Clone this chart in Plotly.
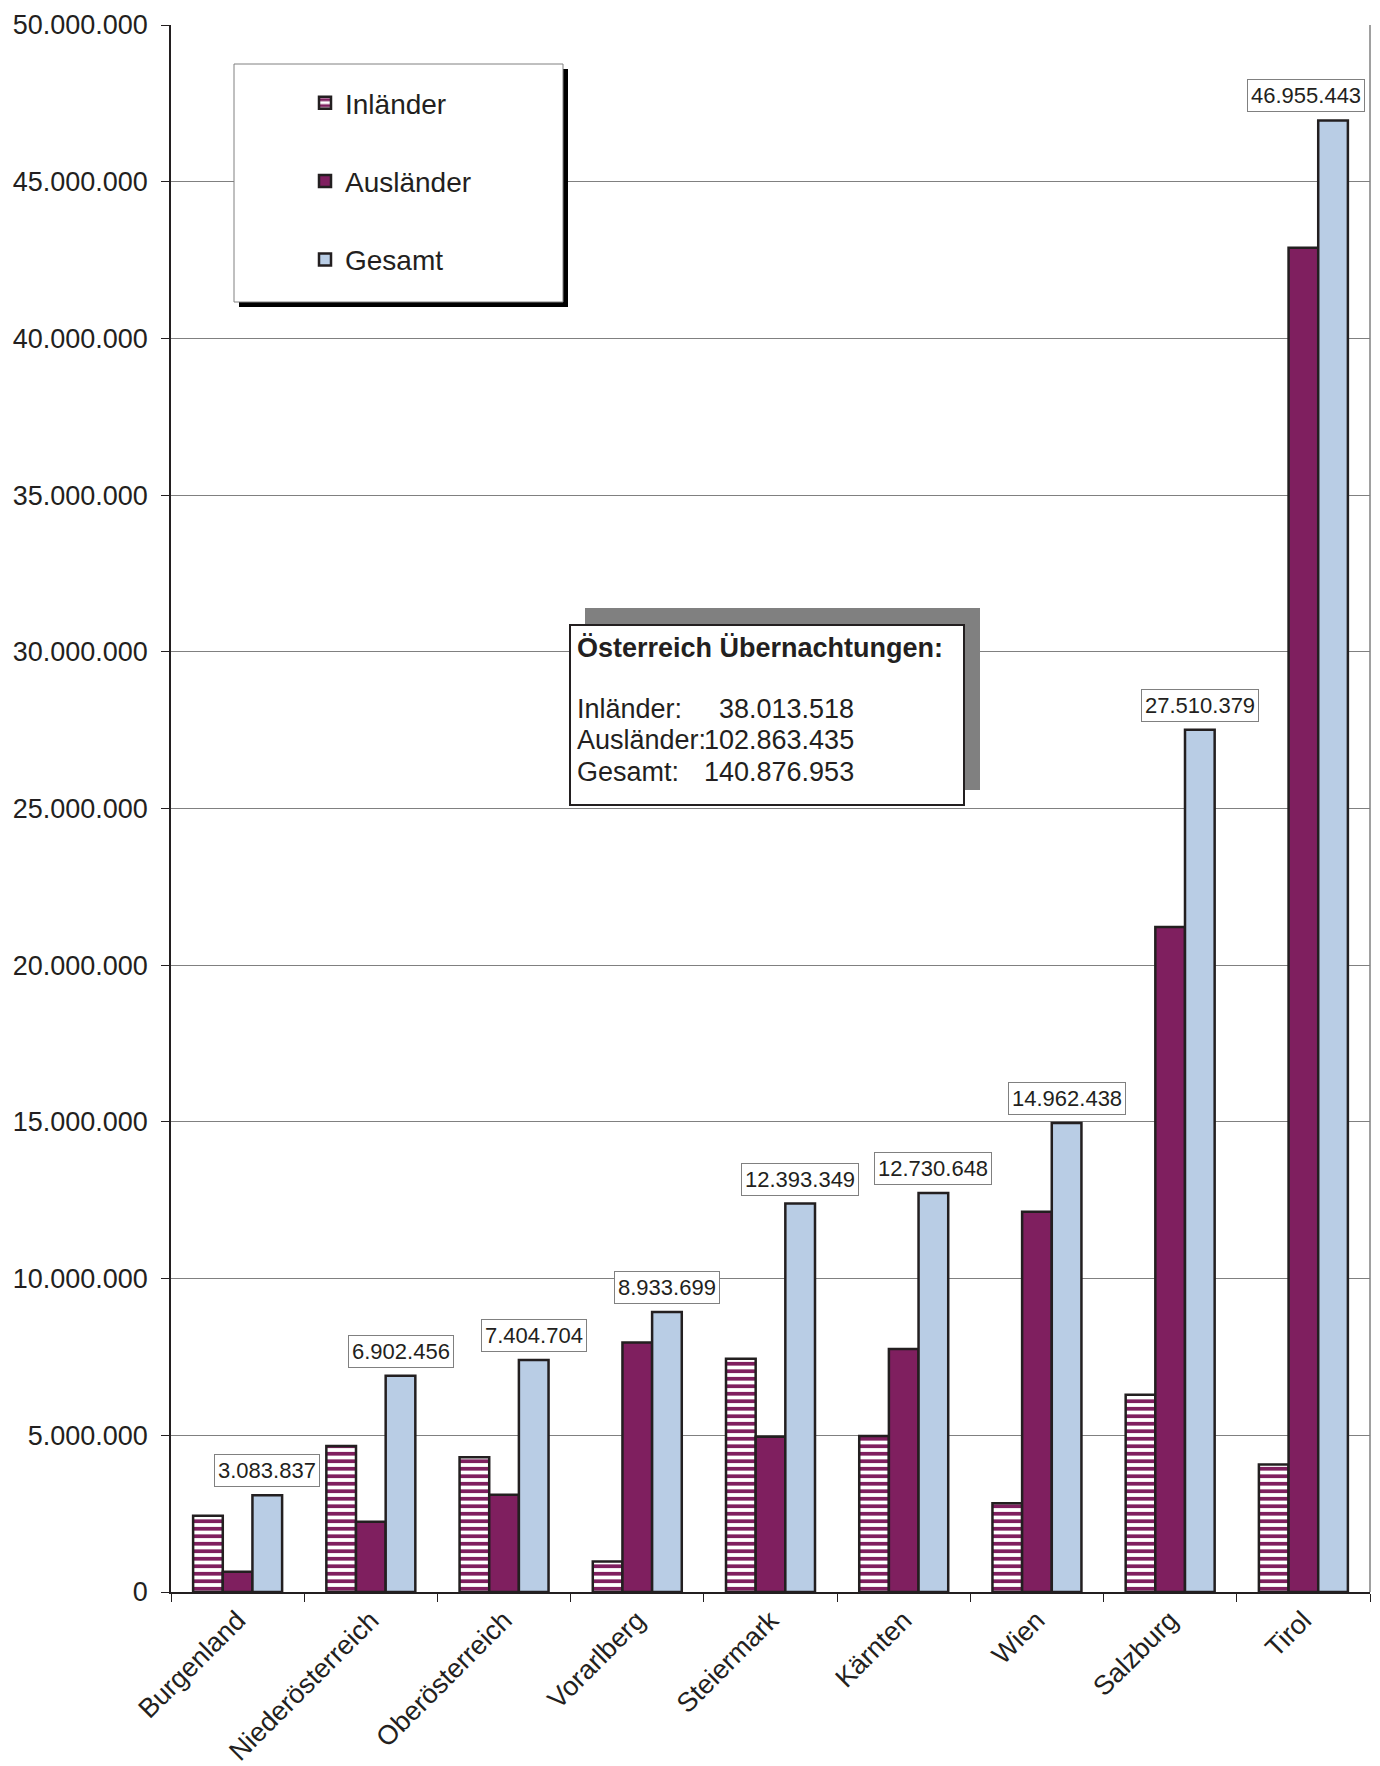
import plotly.graph_objects as go

# Übernachtungen je Bundesland
laender = ["Burgenland", "Niederösterreich", "Oberösterreich", "Vorarlberg", "Steiermark",
           "Kärnten", "Wien", "Salzburg", "Tirol"]
inlaender = [2430000, 4660000, 4300000, 970000, 7440000, 4980000, 2830000, 6290000, 4070000]
auslaender = [650000, 2240000, 3100000, 7960000, 4950000, 7750000, 12130000, 21220000, 42890000]
gesamt = [3083837, 6902456, 7404704, 8933699, 12393349, 12730648, 14962438, 27510379, 46955443]

summe_namen = ["Inländer:", "Ausländer:", "Gesamt:"]
summe_werte = [38013518, 102863435, 140876953]

y_ticks = list(range(0, 50000001, 5000000))

# the page body adds an 8px margin, so the figure is sized to fit the 1380x1766 window
PAGE_OFF = 8
PLOT_L, PLOT_R, PLOT_T, PLOT_B = 171, 1370, 25, 1592   # plot area in page pixels
W, H = 1380 - PAGE_OFF, 1766 - PAGE_OFF
L, T = PLOT_L - PAGE_OFF, PLOT_T - PAGE_OFF
R, B = W + PAGE_OFF - PLOT_R, H + PAGE_OFF - PLOT_B

PURPLE = "#7F1F5F"
BLUE = "#B9CDE5"
DARK = "#231F20"
FONT = "Liberation Sans, Arial, sans-serif"
BARGAP = 0.332


def fmt(v):
    return f"{v:,}".replace(",", ".")


def px_x(p):
    return (p - PLOT_L) / (PLOT_R - PLOT_L)


def px_y(p):
    return (PLOT_B - p) / (PLOT_B - PLOT_T)


outline = dict(color=DARK, width=2.5)

fig = go.Figure()
fig.add_trace(go.Bar(
    x=laender, y=inlaender, name="Inländer", legendgroup="a",
    marker=dict(color="white", line=outline,
                pattern=dict(shape="-", fgcolor=PURPLE, bgcolor="white",
                             size=7.5, solidity=0.5, fillmode="replace")),
))
fig.add_trace(go.Bar(
    x=laender, y=auslaender, name="Ausländer", legendgroup="b",
    marker=dict(color=PURPLE, line=outline),
))
fig.add_trace(go.Bar(
    x=laender, y=gesamt, name="Gesamt", legendgroup="c",
    marker=dict(color=BLUE, line=outline),
))

# value labels above the Gesamt bars
offset = (1 - BARGAP) / 3
for i, v in enumerate(gesamt):
    fig.add_annotation(
        x=i + offset, y=v, xref="x", yref="y", text=fmt(v), showarrow=False,
        yanchor="bottom", yshift=8, xshift=-27 if i == len(gesamt) - 1 else 0,
        font=dict(family=FONT, size=22, color=DARK),
        bgcolor="white", bordercolor="#808080", borderwidth=1, borderpad=3,
    )

shapes = []
# legend box with shadow
shapes.append(dict(type="rect", xref="paper", yref="paper",
                   x0=px_x(239), x1=px_x(568), y0=px_y(307), y1=px_y(69),
                   fillcolor="black", line=dict(width=0), layer="above"))
shapes.append(dict(type="rect", xref="paper", yref="paper",
                   x0=px_x(234), x1=px_x(563), y0=px_y(302), y1=px_y(64),
                   fillcolor="white", line=dict(color="#808080", width=1), layer="above"))
# summary box with grey shadow
shapes.append(dict(type="rect", xref="paper", yref="paper",
                   x0=px_x(585), x1=px_x(980), y0=px_y(790), y1=px_y(608),
                   fillcolor="#808080", line=dict(width=0), layer="above"))
shapes.append(dict(type="rect", xref="paper", yref="paper",
                   x0=px_x(570), x1=px_x(964), y0=px_y(805), y1=px_y(625),
                   fillcolor="white", line=dict(color=DARK, width=2), layer="above"))
# right frame line
shapes.append(dict(type="line", xref="paper", yref="paper", x0=1, x1=1, y0=0, y1=1,
                   line=dict(color="#808080", width=1.5)))

box_font = dict(family=FONT, size=27, color=DARK)
fig.add_annotation(
    x=px_x(575), y=px_y(648), xref="paper", yref="paper", xanchor="left", yanchor="middle",
    text="<b>Österreich Übernachtungen:</b>", showarrow=False, font=box_font,
)
line_y = [708.5, 740, 771.6]
for name, val, yy in zip(summe_namen, summe_werte, line_y):
    fig.add_annotation(
        x=px_x(575), y=px_y(yy), xref="paper", yref="paper", xanchor="left", yanchor="middle",
        text=name, showarrow=False, font=box_font,
    )
    fig.add_annotation(
        x=px_x(856), y=px_y(yy), xref="paper", yref="paper", xanchor="right", yanchor="middle",
        text=fmt(val), showarrow=False, font=box_font,
    )

fig.update_layout(
    width=W, height=H,
    margin=dict(l=L, r=R, t=T, b=B, pad=0, autoexpand=False),
    paper_bgcolor="white", plot_bgcolor="white",
    separators=",.",
    barmode="group", bargap=BARGAP, bargroupgap=0,
    font=dict(family=FONT, size=26, color=DARK),
    shapes=shapes,
    legend=dict(
        xref="paper", yref="paper",
        x=px_x(305), y=px_y(78), xanchor="left", yanchor="top",
        bgcolor="rgba(0,0,0,0)", borderwidth=0,
        font=dict(family=FONT, size=28, color=DARK),
        tracegroupgap=39,
    ),
    showlegend=True,
)
fig.update_yaxes(
    range=[0, 50000000], tickvals=y_ticks, tickformat=",d",
    showgrid=True, gridcolor="#808080", gridwidth=1.2,
    showline=True, linecolor=DARK, linewidth=1.5,
    ticks="outside", ticklen=8, tickcolor=DARK, ticklabelstandoff=8,
    zeroline=False, tickfont=dict(size=27),
)
fig.update_xaxes(
    showline=True, linecolor=DARK, linewidth=1.5,
    ticks="outside", ticklen=8, tickcolor=DARK, tickson="boundaries",
    tickangle=-45, tickfont=dict(size=27),
)

fig.write_html("out.html")
